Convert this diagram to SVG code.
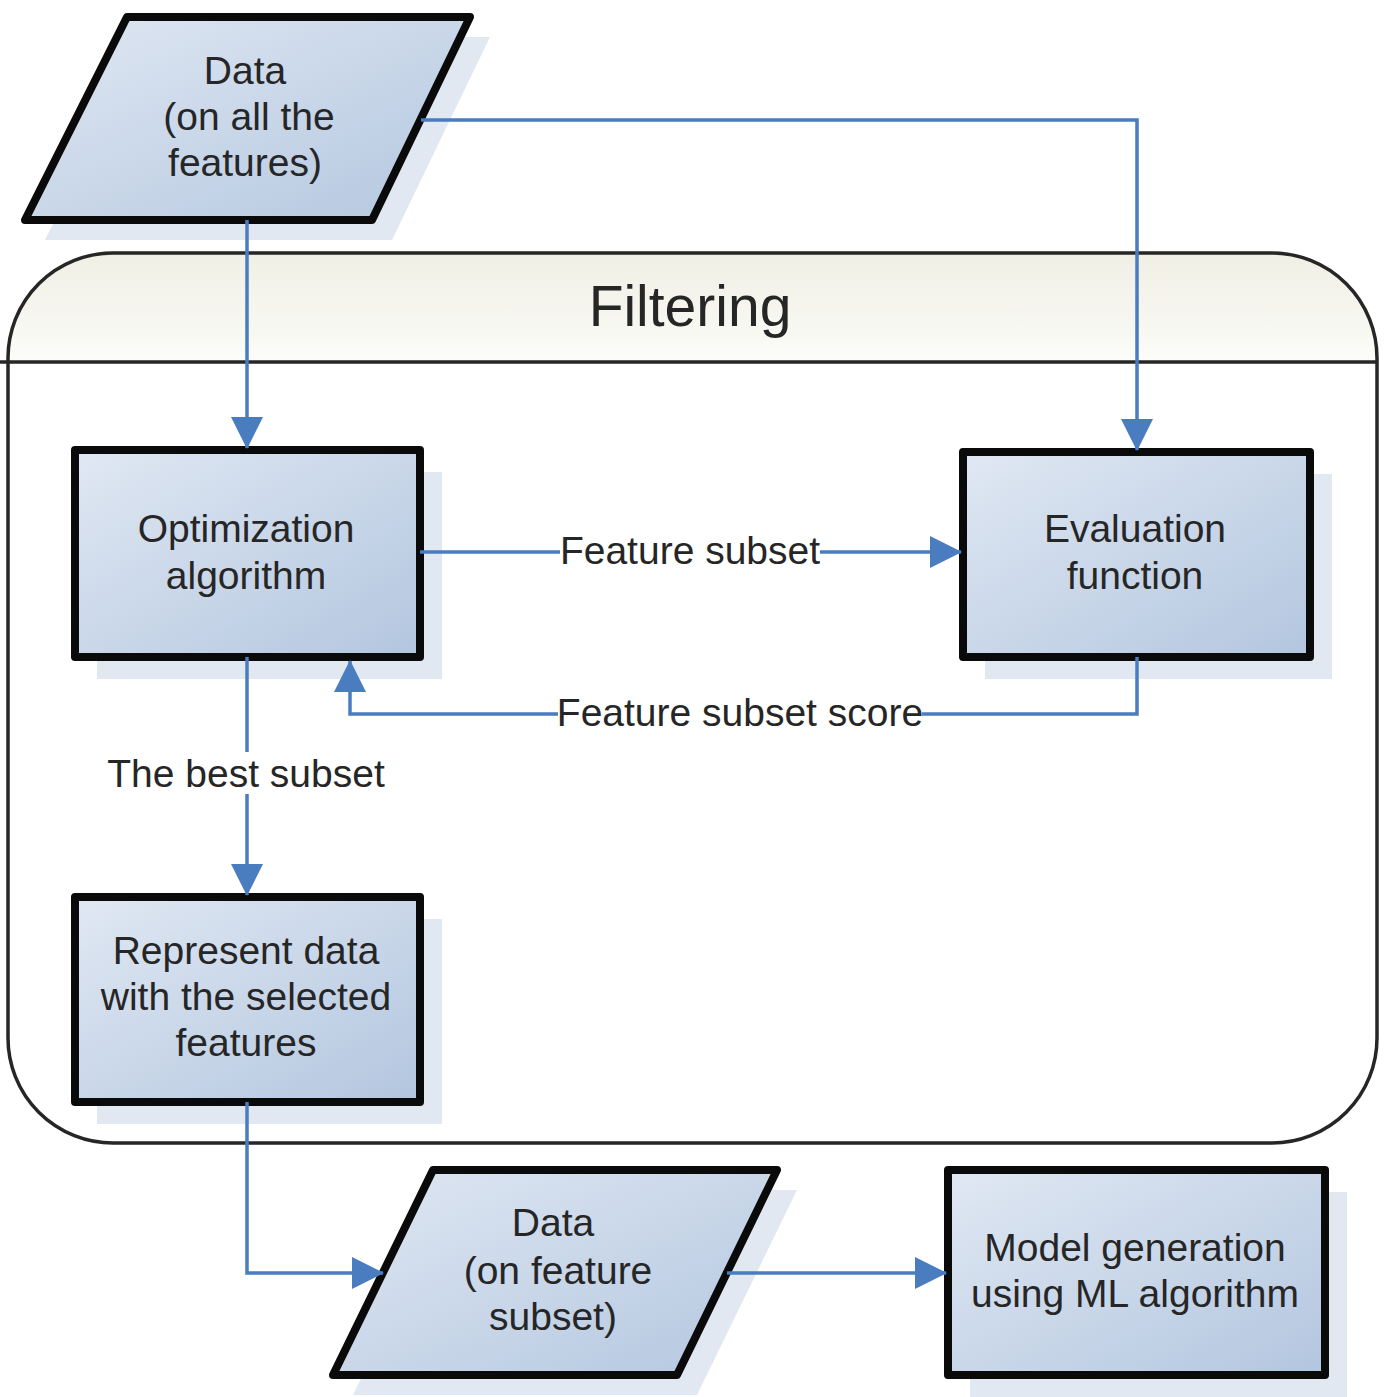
<svg xmlns="http://www.w3.org/2000/svg" width="1385" height="1397" viewBox="0 0 1385 1397">
<defs>
<linearGradient id="nodeFill" x1="0" y1="0" x2="1" y2="1">
<stop offset="0" stop-color="#e0e8f3"/>
<stop offset="1" stop-color="#b3c6df"/>
</linearGradient>
<linearGradient id="headFill" x1="0" y1="0" x2="0" y2="1">
<stop offset="0" stop-color="#efefe4"/>
<stop offset="1" stop-color="#fcfcf9"/>
</linearGradient>
<marker id="arr" markerUnits="userSpaceOnUse" markerWidth="32" markerHeight="32" refX="31" refY="16" orient="auto">
<path d="M0,0 L32,16 L0,32 Z" fill="#4a7cc0"/>
</marker>
<style>
.node{fill:url(#nodeFill);stroke:#0a0a0a;stroke-width:8;stroke-linejoin:round}
.shadow{fill:#e2e8f1}
.t{font-family:"Liberation Sans",Arial,sans-serif;font-size:39px;fill:#262626;text-anchor:middle}
.lbl{font-family:"Liberation Sans",Arial,sans-serif;font-size:39px;fill:#262626;text-anchor:middle}
.conn{fill:none;stroke:#4a7cc0;stroke-width:3.5}
.cont{fill:none;stroke:#262626;stroke-width:3.5}
</style>
</defs>
<rect width="1385" height="1397" fill="#ffffff"/>

<g id="filtering">
<rect x="8" y="253" width="1369" height="890" rx="105" ry="105" fill="#ffffff"/>
<path d="M8,362 L8,358 A105,105 0 0 1 113,253 L1272,253 A105,105 0 0 1 1377,358 L1377,362 Z" fill="url(#headFill)"/>
<rect x="8" y="253" width="1369" height="890" rx="105" ry="105" class="cont"/>
<line x1="0" y1="362" x2="1377" y2="362" class="cont"/>
<text x="690" y="326" style="font-family:'Liberation Sans',Arial,sans-serif;font-size:57px;fill:#262626;text-anchor:middle">Filtering</text>
</g>

<g id="data-all">
<polygon class="shadow" points="147,37 490,37 392,240 45,240"/>
<polygon class="node" points="127,17 470,17 372,220 25,220"/>
<text class="t" x="245" y="84">Data</text>
<text class="t" x="249" y="130">(on all the</text>
<text class="t" x="245" y="176">features)</text>
</g>

<g id="optimization">
<rect class="shadow" x="97" y="472" width="345" height="207"/>
<rect class="node" x="75" y="450" width="345" height="207"/>
<text class="t" x="246" y="542">Optimization</text>
<text class="t" x="246" y="589">algorithm</text>
</g>

<g id="evaluation">
<rect class="shadow" x="985" y="474" width="347" height="205"/>
<rect class="node" x="963" y="452" width="347" height="205"/>
<text class="t" x="1135" y="542">Evaluation</text>
<text class="t" x="1135" y="589">function</text>
</g>

<g id="represent">
<rect class="shadow" x="97" y="919" width="345" height="205"/>
<rect class="node" x="75" y="897" width="345" height="205"/>
<text class="t" x="246" y="964">Represent data</text>
<text class="t" x="246" y="1010">with the selected</text>
<text class="t" x="246" y="1056">features</text>
</g>

<g id="data-subset">
<polygon class="shadow" points="453,1190 797,1190 697,1395 353,1395"/>
<polygon class="node" points="433,1170 777,1170 677,1375 333,1375"/>
<text class="t" x="553" y="1236">Data</text>
<text class="t" x="558" y="1284">(on feature</text>
<text class="t" x="553" y="1330">subset)</text>
</g>

<g id="model">
<rect class="shadow" x="970" y="1192" width="377" height="205"/>
<rect class="node" x="948" y="1170" width="377" height="205"/>
<text class="t" x="1135" y="1261">Model generation</text>
<text class="t" x="1135" y="1307">using ML algorithm</text>
</g>

<g id="connectors">
<path class="conn" d="M247,220 L247,448" marker-end="url(#arr)"/>
<path class="conn" d="M421,120 L1137,120 L1137,450" marker-end="url(#arr)"/>
<path class="conn" d="M420,552 L961,552" marker-end="url(#arr)"/>
<path class="conn" d="M1137,657 L1137,714 L350,714 L350,661" marker-end="url(#arr)"/>
<path class="conn" d="M247,657 L247,895" marker-end="url(#arr)"/>
<path class="conn" d="M247,1102 L247,1273 L383,1273" marker-end="url(#arr)"/>
<path class="conn" d="M727,1273 L946,1273" marker-end="url(#arr)"/>
<rect x="560" y="530" width="260" height="42" fill="#ffffff"/>
<text class="lbl" x="690" y="564">Feature subset</text>
<rect x="558" y="692" width="364" height="42" fill="#ffffff"/>
<text class="lbl" x="740" y="726">Feature subset score</text>
<rect x="108" y="752" width="278" height="42" fill="#ffffff"/>
<text class="lbl" x="246" y="787">The best subset</text>
</g>
</svg>
